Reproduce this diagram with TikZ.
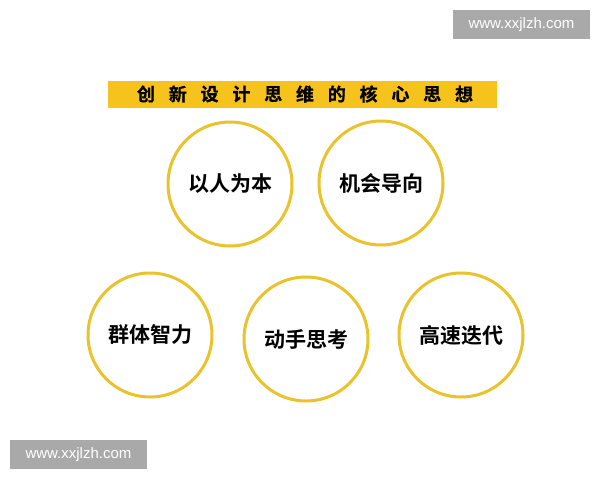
\documentclass[tikz,border=0pt]{standalone}
\usepackage{fontspec}
\setmainfont{Liberation Sans}
\newfontfamily\cjk{Noto Sans CJK SC Bold}
\newfontfamily\cjkheavy{Noto Sans CJK SC Bold}[FakeBold=0.8]
\definecolor{baryellow}{HTML}{F6C21C}
\definecolor{ringgold}{HTML}{E9C22C}
\definecolor{wmgray}{HTML}{A9A9A9}
\tikzset{
  ring/.style={circle, draw=ringgold, line width=3pt, minimum size=124pt, inner sep=0pt, font=\cjk\fontsize{21}{23}\selectfont, text=black},
  wm/.style={fill=wmgray, text=white, font=\fontsize{15}{17}\selectfont, minimum width=137pt, minimum height=29pt, inner sep=0pt},
  titlechar/.style={font=\cjkheavy\fontsize{18}{20}\selectfont, text=black, inner sep=0pt}
}
\begin{document}
\begin{tikzpicture}[x=1pt,y=-1pt]
\useasboundingbox[fill=white] (0,0) rectangle (600,480);
\node[wm] (wm1) at (521.5,24.5) {www.xxjlzh.com};
\node[wm] (wm2) at (78.5,454.5) {www.xxjlzh.com};
\node[fill=baryellow, minimum width=389pt, minimum height=27pt, inner sep=0pt] (bar) at (302.5,94) {};
\foreach \c [count=\i from 0] in {创,新,设,计,思,维,的,核,心,思,想}
  \node[titlechar] (t\i) at (146+\i*31.8,94) {\c};
\node[ring] (c1) at (230,184) {以人为本};
\node[ring] (c2) at (381,183) {机会导向};
\node[ring] (c3) at (150,335) {群体智力};
\node[ring] (c4) at (306,339) {动手思考};
\node[ring] (c5) at (461,335) {高速迭代};
\end{tikzpicture}
\end{document}
